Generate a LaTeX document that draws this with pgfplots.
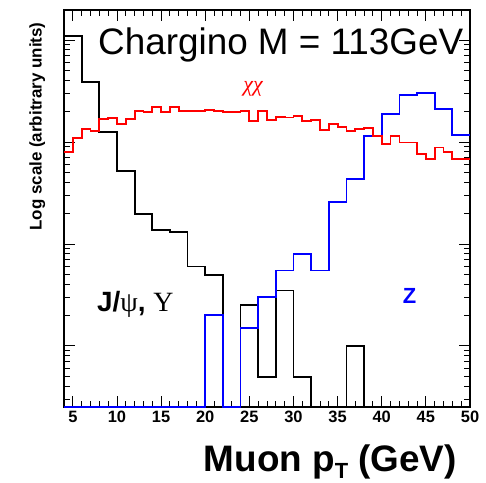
\documentclass[border=0pt]{standalone}
\usepackage{fontspec}
\setmainfont{Liberation Sans}
\newfontfamily\greekserif{Liberation Serif}
\usepackage{pgfplots}
\pgfplotsset{compat=1.18}

\definecolor{histred}{RGB}{255,0,0}
\definecolor{histblue}{RGB}{0,0,255}

\begin{document}
\begin{tikzpicture}[x=1bp,y=1bp]
\path[use as bounding box] (0,0) rectangle (486,483);

\begin{axis}[
  at={(64bp,76bp)}, anchor=south west,
  scale only axis, width=406bp, height=397bp,
  xmin=4, xmax=50,
  ymode=log, ymin=0.252, ymax=1968,
  clip=false,
  axis line style={line width=1.2bp},
  tick align=inside,
  tick style={black, line width=0.9bp},
  major tick length=11bp, minor tick length=6bp,
  xtick={5,10,...,50},
  minor xtick={5,6,...,50},
  ytick={1,10,100,1000},
  yticklabels={},
  minor ytick={0.3,0.4,0.5,0.6,0.7,0.8,0.9,2,3,4,5,6,7,8,9,20,30,40,50,60,70,80,90,200,300,400,500,600,700,800,900},
  /pgf/number format/assume math mode=true,
  xticklabel style={font=\fontsize{16.5}{16.5}\selectfont\bfseries, yshift=-1bp},
]

% J/psi and Upsilon background, 2 GeV bins
\addplot[const plot, black, line width=1.8bp, line join=miter] coordinates {
  (4,1094) (6,390) (8,124.5) (10,52.3) (12,19.7) (14,13.7) (16,13.0)
  (18,6.0) (20,5.0) (22,0.252) (24,2.5) (26,0.5) (28,3.5) (30,0.5)
  (32,0.252) (34,0.252) (36,1.0) (38,0.252) (40,0.252) (42,0.252)
  (44,0.252) (46,0.252) (48,0.252) (50,0.252)
};

% Z background, 2 GeV bins
\addplot[const plot, histblue, line width=1.8bp, line join=miter] coordinates {
  (4,0.252) (6,0.252) (8,0.252) (10,0.252) (12,0.252) (14,0.252)
  (16,0.252) (18,0.252) (20,2.0) (22,0.252) (24,1.5) (26,3.0)
  (28,5.5) (30,8.0) (32,5.5) (34,26) (36,43.4) (38,114.5) (40,188)
  (42,289) (44,300) (46,209) (48,116) (50,116)
};

% chargino pair signal, 1 GeV bins
\addplot[const plot, histred, line width=1.8bp, line join=miter] coordinates {
  (4,80.3) (5,110.2) (6,134.1) (7,127.3) (8,166.9) (9,170.7)
  (10,149.1) (11,166.9) (12,202.7) (13,195.5) (14,218.8) (15,198.2)
  (16,218.8) (17,202.7) (18,201.3) (19,201.3) (20,205.9) (21,201.3)
  (22,195.5) (23,195.5) (24,201.3) (25,161.8) (26,202.7) (27,163.2)
  (28,174.7) (29,173.9) (30,179.0) (31,159.9) (32,164.3) (33,130.2)
  (34,149.1) (35,141.3) (36,129.1) (37,134.7) (38,136.3) (39,115.0)
  (40,95.2) (41,114.5) (42,98.9) (43,98.9) (44,76.3) (45,68.1)
  (46,88.3) (47,80.3) (48,68.6) (49,68.1) (50,68.1)
};
\end{axis}

% title and axis titles
\node[anchor=base west, inner sep=0pt, font=\fontsize{37}{37}\selectfont] at (98,428) {Chargino M = 113GeV};
\node[anchor=base east, inner sep=0pt, font=\fontsize{37}{37}\selectfont\bfseries] at (457,11)
  {Muon p\raisebox{-7bp}{\fontsize{22}{22}\selectfont T} (GeV)};
\node[anchor=base, rotate=90, inner sep=0pt, font=\fontsize{17}{17}\selectfont\bfseries] at (41.7,356.5)
  {Log scale (arbitrary units)};

% sample labels
\node[anchor=center, inner sep=0pt, text=histred, font=\fontsize{22}{22}\selectfont\greekserif\itshape] at (253,394) {χχ};
\node[anchor=base west, inner sep=0pt, font=\fontsize{28}{28}\selectfont\bfseries] at (97,171.3)
  {J/{\greekserif\mdseries ψ}, {\greekserif\mdseries Υ}};
\node[anchor=base west, inner sep=0pt, text=histblue, font=\fontsize{22}{22}\selectfont\bfseries] at (402.7,179.7) {Z};
\end{tikzpicture}
\end{document}
